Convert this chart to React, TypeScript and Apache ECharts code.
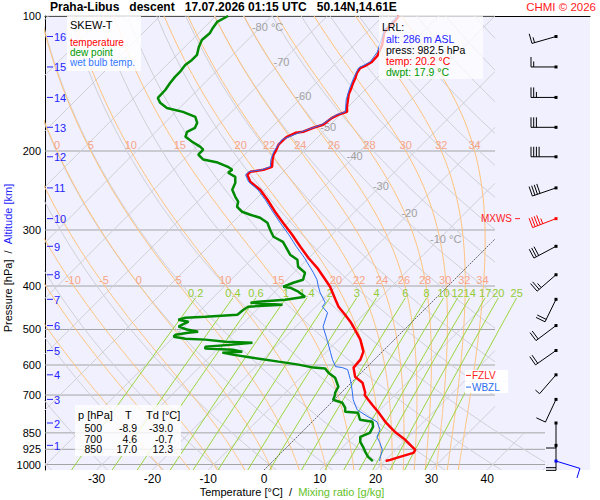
import React, { useEffect, useRef } from "react";
import * as echarts from "echarts";

// ---------------- data ----------------
const stationTitle = "Praha-Libus   descent   17.07.2026 01:15 UTC   50.14N,14.61E";
const copyright = "CHMI © 2026";

const pressureTicks = [100, 200, 300, 400, 500, 600, 700, 850, 925, 1000];
const wideIsobars = [850, 925, 1000];
const temperatureTicks = [-30, -20, -10, 0, 10, 20, 30, 40];

const isotherms = [-120, -110, -100, -90, -80, -70, -60, -50, -40, -30, -20, -10, 0, 10, 20, 30, 40, 50];
const dryAdiabats = [-40, -30, -20, -10, 0, 10, 20, 30, 40, 50, 60, 70, 80, 90, 100, 110, 120, 130, 140, 150, 160, 170, 180];
const moistAdiabats = [-20, -15, -10, -5, 0, 5, 10, 15, 20, 22, 24, 26, 28, 30, 32, 34];
const moistLabels200 = [0, 5, 10, 15, 20, 22, 24, 26, 28, 30, 32, 34];
const moistLabels400 = [-10, -5, 0, 5, 10, 15, 20, 22, 24, 26, 28, 30, 32, 34];
const mixingRatios = [0.2, 0.4, 0.6, 1, 1.4, 2, 3, 4, 6, 8, 10, 12, 14, 17, 20, 25];
const isothermLabelT = [-80, -70, -60, -50, -40, -30, -20, -10];
const isothermLabelP = [105.8, 126.6, 150.7, 176.6, 205.2, 239, 275, 315];

const tempP = [100, 102.6, 104.7, 107.4, 109.1, 112.5, 116.0, 120.3, 122.8, 126.6, 129.2, 130.6, 134.0, 137.4, 141.0, 145.4, 149.2, 153.8, 159.5, 163.6, 164.5, 166.1, 168.7, 174.8, 177.5, 181.2, 182.1, 185.9, 188.8, 193.6, 200.7, 203.7, 209.0, 216.9, 220.2, 222.5, 226.0, 234.3, 244.1, 256.9, 273.2, 289.1, 307.5, 326.9, 345.9, 364.3, 381.3, 401.4, 429.1, 444.8, 463.4, 480.4, 500, 526.7, 560.2, 583.7, 608.1, 637.0, 657.0, 691.9, 700, 717.2, 735.9, 762.8, 803.0, 828.2, 850, 880.9, 927.5, 941.9, 961.5, 976.4, 982.5];
const tempT = [-57.2, -57.0, -57.0, -57.0, -56.8, -55.9, -55.0, -54.3, -53.9, -53.8, -54.3, -54.8, -54.5, -53.9, -53.4, -52.7, -52.2, -51.3, -50.2, -49.3, -49.8, -50.4, -50.9, -51.3, -52.5, -53.6, -54.7, -55.6, -55.7, -55.7, -55.0, -54.8, -54.1, -52.9, -53.9, -55.9, -55.9, -54.1, -50.9, -47.8, -44.3, -40.9, -37.1, -33.5, -30.1, -26.7, -24.0, -21.0, -17.7, -15.9, -13.3, -11.1, -8.9, -6.1, -3.4, -2.5, -2.3, -0.4, 2.0, 4.3, 4.6, 6.1, 7.7, 10.0, 13.1, 15.2, 17.0, 19.9, 23.5, 23.7, 22.0, 20.8, 20.2];

const dewP = [100, 103.1, 106.3, 109.1, 113.1, 117.2, 122.1, 125.3, 128.6, 133.3, 136.7, 141.0, 146.2, 152.3, 156.2, 160.3, 163.6, 167.8, 173.0, 177.5, 181.2, 185.9, 190.7, 195.6, 198.6, 203.7, 209.0, 212.2, 216.9, 220.2, 223.6, 228.3, 235.5, 244.1, 253.0, 259.5, 266.3, 273.2, 277.4, 281.8, 289.1, 300.0, 310.6, 318.7, 331.9, 340.6, 349.5, 362.4, 373.6, 387.3, 393.3, 401.4, 403.5, 411.8, 422.5, 429.1, 433.5, 435.8, 440.3, 444.8, 451.8, 463.4, 468.2, 470.6, 475.4, 480.4, 487.8, 492.8, 500, 505.6, 508.2, 513.4, 518.7, 524.1, 526.7, 532.2, 534.9, 540.4, 546.0, 551.6, 554.5, 560.2, 563.1, 568.9, 577.8, 589.7, 598.8, 608.1, 611.2, 624.0, 640.3, 670.7, 691.9, 700, 717.2, 728.4, 747.3, 762.8, 766.8, 794.8, 803.0, 823.9, 850, 867.4, 890.0, 913.3, 937.1, 961.5, 982.5];
const dewT = [-87.8, -88.7, -88.4, -88.0, -88.2, -87.5, -86.4, -86.4, -86.7, -86.4, -86.4, -86.2, -85.8, -85.7, -84.4, -82.3, -78.7, -75.6, -74.2, -73.7, -74.4, -73.8, -71.7, -69.4, -68.3, -68.3, -66.5, -63.4, -60.8, -59.5, -59.7, -57.7, -56.6, -55.9, -54.1, -52.7, -52.0, -50.2, -48.2, -45.9, -43.7, -41.9, -40.1, -37.5, -35.3, -33.9, -31.7, -30.3, -28.0, -27.1, -28.3, -29.4, -28.0, -25.8, -23.7, -26.7, -31.2, -32.4, -26.3, -32.1, -32.4, -32.6, -38.0, -41.4, -42.3, -40.1, -40.7, -41.0, -39.0, -36.6, -38.2, -40.1, -40.1, -37.6, -33.9, -29.9, -24.9, -28.1, -32.6, -32.3, -27.2, -25.1, -28.5, -26.3, -22.2, -16.8, -12.7, -9.5, -7.2, -5.9, -3.8, -1.6, -1.1, -0.7, -0.2, 2.0, 3.4, 4.1, 6.6, 8.2, 10.8, 11.8, 12.3, 11.3, 12.2, 13.6, 14.9, 16.3, 17.9];

const wbP = [100, 107.4, 112.5, 120.3, 126.6, 130.6, 137.4, 145.4, 153.8, 163.6, 166.1, 174.8, 181.2, 188.8, 200.7, 209.0, 216.9, 220.2, 222.5, 226.0, 234.3, 244.1, 256.9, 273.2, 289.1, 307.5, 326.9, 345.9, 373.6, 387.3, 401.4, 414.0, 435.8, 444.8, 458.7, 492.8, 532.2, 563.1, 583.7, 605.0, 608.1, 614.4, 646.9, 681.3, 717.2, 755.1, 782.6, 803.0, 836.7, 867.4, 894.6, 927.5, 961.5, 982.5];
const wbT = [-57.5, -57.3, -56.2, -54.6, -54.1, -55.1, -54.2, -53.0, -51.6, -49.6, -50.7, -51.6, -53.9, -56.0, -55.3, -54.4, -53.2, -54.2, -56.2, -56.2, -54.4, -51.3, -48.2, -44.7, -41.4, -37.7, -34.2, -30.8, -26.5, -24.6, -23.1, -21.7, -19.0, -18.8, -16.8, -15.1, -11.6, -9.1, -7.5, -5.7, -4.3, -3.0, -0.7, 1.4, 3.4, 5.9, 9.1, 11.6, 13.6, 14.3, 15.9, 17.6, 18.5, 19.1];

const altitudeKm = [16, 15, 14, 13, 12, 11, 10, 9, 8, 7, 6, 5, 4, 3, 2, 1];
const altitudeP = [111.1, 129.9, 151.9, 177.1, 206.0, 241.7, 283.0, 326.2, 377.5, 428.3, 490.0, 557.0, 631.0, 715.9, 808.1, 906.4];

const windP = [111.1, 129.9, 151.9, 177.1, 206.0, 241.7, 283.0, 326.2, 377.5, 428.3, 490.0, 557.0, 631.0, 715.9, 808.1, 906.4, 982.5];
const windDir = [254, 270, 270, 270, 270, 251, 249, 242, 229, 206, 233, 235, 221, 205, 180, 180, 107];
const windKt = [15, 15, 25, 30, 40, 40, 45, 30, 25, 20, 20, 20, 5, 10, 10, 20, 10];

const freezingLevelP = 633;
const wetBulbZeroP = 672;

const lrlAlt = 286;
const lrlPress = 982.5;
const lrlTemp = 20.2;
const lrlDwpt = 17.9;

const tableP = [500, 700, 850];
const tableT = [-8.9, 4.6, 17.0];
const tableTd = [-39.0, -0.7, 12.3];

// ---------------- layout ----------------
const FONT = '"Liberation Sans", Arial, Helvetica, sans-serif';
const W = 600;
const H = 500;
const GRID_L = 45;
const GRID_R = 10;
const GRID_T = 16;
const GRID_B = 30;
const ZERO_PX = 264;
const PX_PER_DEG = 5.58;
const P_TOP = 100;
const P_BOT = 1028.6;
const SKEW = (H - GRID_T - GRID_B) / Math.log(P_BOT / P_TOP) / PX_PER_DEG;
const pxToX = (px: number) => (px - ZERO_PX) / PX_PER_DEG;
const X_MIN = pxToX(GRID_L);
const X_MAX = pxToX(W - GRID_R);
const skewX = (t: number, p: number) => t + SKEW * Math.log(P_BOT / p);
const CLIP_HIGH = pxToX(495);
const CLIP_LOW = pxToX(545);
const CLIP_P = 850;
const MIX_TOP = 425;

const inside = (x: number, p: number) => x <= (p >= CLIP_P - 1e-6 ? CLIP_LOW : CLIP_HIGH);

function clipLine(pts: number[][]): number[][][] {
  const out: number[][][] = [];
  let cur: number[][] = [];
  const lerp = (a: number[], b: number[], t: number) => [
    a[0] + (b[0] - a[0]) * t,
    Math.exp(Math.log(a[1]) + (Math.log(b[1]) - Math.log(a[1])) * t),
  ];
  for (let i = 0; i < pts.length; i++) {
    const b = pts[i];
    const ib = inside(b[0], b[1]);
    if (i === 0) {
      if (ib) cur.push(b);
      continue;
    }
    const a = pts[i - 1];
    const ia = inside(a[0], a[1]);
    if (ia && ib) cur.push(b);
    else if (ia !== ib) {
      let lo = 0;
      let hi = 1;
      for (let k = 0; k < 30; k++) {
        const m = (lo + hi) / 2;
        const q = lerp(a, b, m);
        if (inside(q[0], q[1]) === ia) lo = m;
        else hi = m;
      }
      const q = lerp(a, b, ia ? lo : hi);
      if (ia) {
        cur.push(q);
        if (cur.length > 1) out.push(cur);
        cur = [];
      } else {
        cur = [q, b];
      }
    }
  }
  if (cur.length > 1) out.push(cur);
  return out;
}

function pressureSamples(step: number): number[] {
  const out = [P_BOT];
  for (let p = Math.floor(P_BOT / step) * step; p > P_TOP; p -= step) if (p < P_BOT) out.push(p);
  out.push(P_TOP);
  return out;
}

function moistCurve(thetaW: number): number[][] {
  const Rd = 287.04, cp = 1005.7, Lv = 2.501e6, eps = 0.622;
  const f = (T: number, p: number) => {
    const es = 6.112 * Math.exp((17.67 * (T - 273.15)) / (T - 29.65));
    const rs = (eps * es) / (p - es);
    return (Rd * T + Lv * rs) / (p * (cp + (Lv * Lv * rs * eps) / (Rd * T * T)));
  };
  const rk = (T: number, p: number, h: number) => {
    const k1 = f(T, p);
    const k2 = f(T + (h / 2) * k1, p + h / 2);
    const k3 = f(T + (h / 2) * k2, p + h / 2);
    const k4 = f(T + h * k3, p + h);
    return T + (h / 6) * (k1 + 2 * k2 + 2 * k3 + k4);
  };
  const T0 = thetaW + 273.15;
  let Tb = T0;
  const nb = 10;
  const hb = (P_BOT - 1000) / nb;
  for (let i = 0; i < nb; i++) Tb = rk(Tb, 1000 + i * hb, hb);
  const pts: number[][] = [[P_BOT, Tb], [1000, T0]];
  let T = T0;
  for (let p = 1000; p > P_TOP; p -= 1) {
    T = rk(T, p, -1);
    if ((p - 1) % 5 === 0) pts.push([p - 1, T]);
  }
  return pts.map(([p, t]) => [skewX(t - 273.15, p), p]);
}

function dryCurve(thetaC: number): number[][] {
  return pressureSamples(10).map((p) => [skewX((thetaC + 273.15) * Math.pow(p / 1000, 0.2857) - 273.15, p), p]);
}

function mixCurve(w: number): number[][] {
  const ps = [P_BOT];
  for (let p = 1000; p > MIX_TOP; p -= 25) ps.push(p);
  ps.push(MIX_TOP);
  return ps.map((p) => {
    const r = w / 1000;
    const e = (r * p) / (0.622 + r);
    const l = Math.log(e / 6.112);
    const t = (243.5 * l) / (17.67 - l);
    return [skewX(t, p), p];
  });
}

const lineSeries = (data: number[][], color: string, width: number, z: number, type: any = "solid") => ({
  type: "line",
  data,
  showSymbol: false,
  symbol: "none",
  silent: true,
  animation: false,
  z,
  lineStyle: { color, width, type },
  itemStyle: { color },
  emphasis: { disabled: true },
});

type Lbl = { X: number; p: number; text: string; color: string; size: number; align?: string; vAlign?: string; dx?: number; dy?: number };

const labelSeries = (items: Lbl[], z = 4) => ({
  type: "custom",
  coordinateSystem: "cartesian2d",
  silent: true,
  animation: false,
  z,
  data: items.map((it) => [it.X, it.p]),
  renderItem: (params: any, api: any) => {
    const it = items[params.dataIndex];
    const c = api.coord([api.value(0), api.value(1)]);
    const align = it.align || "center";
    const vAlign = it.vAlign || "middle";
    return {
      type: "text",
      x: c[0] + (it.dx || 0),
      y: c[1] + (it.dy || 0),
      style: {
        text: it.text,
        fill: it.color,
        font: `${it.size}px ${FONT}`,
        align,
        verticalAlign: vAlign,
        textAlign: align,
        textVerticalAlign: vAlign,
      },
    };
  },
});

const gText = (x: number, y: number, text: string, fill: string, size: number, align = "left", bold = false) => ({
  type: "text",
  x,
  y,
  z: 101,
  silent: true,
  style: {
    text,
    fill,
    font: `${bold ? "bold " : ""}${size}px ${FONT}`,
    lineHeight: 10,
    align,
    verticalAlign: "middle",
    textAlign: align,
    textVerticalAlign: "middle",
  },
});

const gRect = (x: number, y: number, w: number, h: number, fill: string) => ({
  type: "rect",
  z: 100,
  silent: true,
  shape: { x, y, width: w, height: h },
  style: { fill },
});

function buildOption() {
  const series: any[] = [];

  // isobars
  pressureTicks.forEach((p) => {
    const end = wideIsobars.includes(p) ? CLIP_LOW : CLIP_HIGH;
    series.push(lineSeries([[X_MIN, p], [end, p]], "#a4a4a4", 1, 1));
  });

  // dry adiabats
  dryAdiabats.forEach((th) => {
    clipLine(dryCurve(th)).forEach((seg) => series.push(lineSeries(seg, "#cfcfd4", 1, 1)));
  });

  // isotherms
  isotherms.forEach((t) => {
    const pts = pressureSamples(20).map((p) => [skewX(t, p), p]);
    clipLine(pts).forEach((seg) =>
      series.push(t === 0 ? lineSeries(seg, "#666666", 1, 2, [2, 1]) : lineSeries(seg, "#cfcfd4", 1, 1))
    );
  });

  // moist adiabats
  const moistAt: Record<string, Record<string, number>> = {};
  moistAdiabats.forEach((tw) => {
    const curve = moistCurve(tw);
    moistAt[tw] = {};
    curve.forEach(([x, p]) => {
      if (Math.abs(p - 200) < 1e-6) moistAt[tw]["200"] = x;
      if (Math.abs(p - 400) < 1e-6) moistAt[tw]["400"] = x;
    });
    clipLine(curve).forEach((seg) => series.push(lineSeries(seg, "#ffc27a", 1, 1)));
  });

  // mixing ratio lines
  const mixTops: number[] = [];
  mixingRatios.forEach((w) => {
    const c = mixCurve(w);
    mixTops.push(c[c.length - 1][0]);
    series.push(lineSeries(c, "#9ad53c", 1, 1));
  });

  // labels
  const lbls: Lbl[] = [];
  isothermLabelT.forEach((t, i) => {
    const unit = i === 0 || i === isothermLabelT.length - 1;
    lbls.push({ X: skewX(t, isothermLabelP[i]), p: isothermLabelP[i], text: unit ? `${t} °C` : `${t}`, color: "#a0a0a0", size: 11, dx: unit ? 7 : 0 });
  });
  moistLabels200.forEach((tw) => {
    lbls.push({ X: moistAt[tw]["200"], p: 200, text: `${tw}`, color: "#f7a486", size: 11, vAlign: "bottom", dx: 0, dy: -1 });
  });
  moistLabels400.forEach((tw) => {
    lbls.push({ X: moistAt[tw]["400"], p: 400, text: `${tw}`, color: "#f7a486", size: 11, vAlign: "bottom", dx: -1, dy: -1 });
  });
  mixingRatios.forEach((w, i) => {
    lbls.push({ X: mixTops[i], p: MIX_TOP, text: `${w}`, color: "#92cc33", size: 11, vAlign: "bottom", dy: 1 });
  });
  pressureTicks.forEach((p) => {
    lbls.push({ X: X_MIN, p, text: `${p}`, color: "#000000", size: 11, align: "right", dx: -4 });
  });
  series.push(labelSeries(lbls, 4));

  // altitude ticks
  series.push({
    type: "custom",
    coordinateSystem: "cartesian2d",
    silent: true,
    animation: false,
    z: 4,
    data: altitudeP.map((p) => [X_MIN, p]),
    renderItem: (params: any, api: any) => {
      const c = api.coord([api.value(0), api.value(1)]);
      return {
        type: "group",
        children: [
          { type: "line", shape: { x1: c[0] + 2, y1: c[1], x2: c[0] + 8, y2: c[1] }, style: { stroke: "#2424ff", lineWidth: 1 } },
          {
            type: "text",
            x: c[0] + 9,
            y: c[1] + 0.5,
            style: { text: `${altitudeKm[params.dataIndex]}`, fill: "#2424ff", font: `11px ${FONT}`, align: "left", verticalAlign: "middle", textAlign: "left", textVerticalAlign: "middle" },
          },
        ],
      };
    },
  });

  // profiles
  series.push(lineSeries(dewP.map((p, i) => [skewX(dewT[i], p), p]), "#008a00", 2.5, 5));
  series.push(lineSeries(tempP.map((p, i) => [skewX(tempT[i], p), p]), "#ff0000", 2.5, 6));
  series.push(lineSeries(wbP.map((p, i) => [skewX(wbT[i], p), p]), "#2a6cf0", 1, 7));

  // wind barbs
  let maxIdx = 0;
  windKt.forEach((v, i) => {
    if (v > windKt[maxIdx]) maxIdx = i;
  });
  const BARB_X = pxToX(556);
  series.push({
    type: "custom",
    coordinateSystem: "cartesian2d",
    silent: true,
    animation: false,
    z: 8,
    data: windP.map((p, i) => [BARB_X, p, windDir[i], windKt[i]]),
    renderItem: (params: any, api: any) => {
      const i = params.dataIndex;
      const c = api.coord([api.value(0), api.value(1)]);
      const dir = (api.value(2) * Math.PI) / 180;
      const spd = api.value(3);
      const color = i === maxIdx ? "#ff0000" : i === windP.length - 1 ? "#0000ff" : "#000000";
      const ux = Math.sin(dir);
      const uy = -Math.cos(dir);
      const vx = -uy;
      const vy = ux;
      const L = 25, BL = 10, HL = 5.5, GAP = 2.7;
      const ex = c[0] + ux * L;
      const ey = c[1] + uy * L;
      const st = { stroke: color, lineWidth: 1 };
      const children: any[] = [{ type: "line", shape: { x1: c[0], y1: c[1], x2: ex, y2: ey }, style: st }];
      const full = Math.floor(spd / 10);
      const half = spd % 10 >= 5;
      let pos = 0;
      for (let k = 0; k < full; k++) {
        const bx = ex - ux * pos;
        const by = ey - uy * pos;
        children.push({ type: "line", shape: { x1: bx, y1: by, x2: bx + vx * BL, y2: by + vy * BL }, style: st });
        pos += GAP;
      }
      if (half) {
        const bx = ex - ux * pos;
        const by = ey - uy * pos;
        children.push({ type: "line", shape: { x1: bx, y1: by, x2: bx + vx * HL, y2: by + vy * HL }, style: st });
      }
      children.push({ type: "rect", shape: { x: c[0] - 1.5, y: c[1] - 1.5, width: 3, height: 3 }, style: { fill: color } });
      return { type: "group", children };
    },
  });

  // special levels
  const levelItems = [
    { X: pxToX(512), p: windP[maxIdx], kind: 0 },
    { X: pxToX(466), p: freezingLevelP, kind: 1 },
    { X: pxToX(466), p: wetBulbZeroP, kind: 2 },
  ];
  series.push({
    type: "custom",
    coordinateSystem: "cartesian2d",
    silent: true,
    animation: false,
    z: 9,
    data: levelItems.map((it) => [it.X, it.p]),
    renderItem: (params: any, api: any) => {
      const it = levelItems[params.dataIndex];
      const c = api.coord([api.value(0), api.value(1)]);
      const ts = (text: string, fill: string, align: string) => ({
        text,
        fill,
        font: `10px ${FONT}`,
        lineHeight: 10,
        align,
        verticalAlign: "middle",
        textAlign: align,
        textVerticalAlign: "middle",
      });
      if (it.kind === 0) {
        return {
          type: "group",
          children: [
            { type: "text", x: c[0], y: c[1], style: ts("MXWS", "#ff2222", "right") },
            { type: "line", shape: { x1: c[0] + 3, y1: c[1], x2: c[0] + 8, y2: c[1] }, style: { stroke: "#ff2222", lineWidth: 1 } },
          ],
        };
      }
      const color = it.kind === 1 ? "#ff2222" : "#2a6cf0";
      const label = it.kind === 1 ? "FZLV" : "WBZL";
      return {
        type: "group",
        children: [
          { type: "rect", shape: { x: c[0] - 1, y: c[1] - 5.5, width: 43, height: 11.5 }, style: { fill: "rgba(255,255,255,0.95)" } },
          { type: "line", shape: { x1: c[0], y1: c[1], x2: c[0] + 5, y2: c[1] }, style: { stroke: color, lineWidth: 1 } },
          { type: "text", x: c[0] + 6, y: c[1], style: ts(label, color, "left") },
        ],
      };
    },
  });

  const graphic: any[] = [
    gText(50, 7, stationTitle, "#000000", 12, "left", true),
    gText(596, 7, copyright, "#ff1a1a", 11.5, "right"),
    // legend
    gRect(67, 16, 74, 55, "rgba(255,255,255,0.85)"),
    gText(70, 25, "SKEW-T", "#000000", 11),
    gText(70, 42, "temperature", "#ff0000", 10),
    gText(70, 52, "dew point", "#009900", 10),
    gText(70, 62.5, "wet bulb temp.", "#3377ff", 10),
    // LRL
    gRect(379, 16, 104, 63, "rgba(255,255,255,0.72)"),
    gText(382, 27, "LRL:", "#000000", 10.5),
    gText(386, 39.4, `alt: ${lrlAlt} m ASL`, "#2424ff", 10.5),
    gText(386, 50.1, `press: ${lrlPress.toFixed(1)} hPa`, "#000000", 10.5),
    gText(386, 60.8, `temp: ${lrlTemp.toFixed(1)} °C`, "#ff0000", 10.5),
    gText(386, 71.5, `dwpt: ${lrlDwpt.toFixed(1)} °C`, "#009900", 10.5),
    // table
    gRect(75, 405, 106, 51, "rgba(255,255,255,0.8)"),
    gText(78, 415, "p [hPa]", "#000000", 11),
    gText(125, 415, "T", "#000000", 11),
    gText(146, 415, "Td [°C]", "#000000", 11),
    // axis titles
    {
      type: "text",
      x: 292,
      y: 492,
      z: 101,
      silent: true,
      style: {
        text: "{a|Temperature [°C]  /  }{b|Mixing ratio [g/kg]}",
        rich: {
          a: { fill: "#000000", font: `11px ${FONT}` },
          b: { fill: "#66c22a", font: `11px ${FONT}` },
        },
        font: `11px ${FONT}`,
        align: "center",
        verticalAlign: "middle",
        textAlign: "center",
        textVerticalAlign: "middle",
      },
    },
    {
      type: "text",
      x: 8,
      y: 258,
      rotation: Math.PI / 2,
      z: 101,
      silent: true,
      style: {
        text: "{a|Pressure [hPa]  /  }{b|Altitude [km]}",
        rich: {
          a: { fill: "#000000", font: `11px ${FONT}` },
          b: { fill: "#2424ff", font: `11px ${FONT}` },
        },
        font: `11px ${FONT}`,
        align: "center",
        verticalAlign: "middle",
        textAlign: "center",
        textVerticalAlign: "middle",
      },
    },
  ];
  tableP.forEach((p, i) => {
    const y = 428 + i * 10.6;
    graphic.push(gText(102, y, `${p}`, "#000000", 10.5, "right"));
    graphic.push(gText(137, y, tableT[i].toFixed(1), "#000000", 10.5, "right"));
    graphic.push(gText(173, y, tableTd[i].toFixed(1), "#000000", 10.5, "right"));
  });

  return {
    animation: false,
    backgroundColor: "#ffffff",
    textStyle: { fontFamily: FONT },
    grid: {
      left: GRID_L,
      right: GRID_R,
      top: GRID_T,
      bottom: GRID_B,
      show: true,
      backgroundColor: "#f0f0ff",
      borderWidth: 0,
      containLabel: false,
      outerBoundsMode: "none",
    },
    xAxis: [
      {
        type: "value",
        min: X_MIN,
        max: X_MAX,
        splitNumber: 10,
        minInterval: 10,
        maxInterval: 10,
        position: "bottom",
        axisLine: { show: false, onZero: false },
        axisTick: { show: false },
        splitLine: { show: false },
        axisLabel: {
          color: "#000000",
          fontSize: 12,
          fontFamily: FONT,
          margin: 3,
          showMinLabel: false,
          showMaxLabel: false,
          formatter: (v: number) => {
            const r = Math.round(v);
            return Math.abs(v - r) < 1e-6 && temperatureTicks.includes(r) ? `${r}` : "";
          },
        },
      },
      {
        type: "value",
        min: X_MIN,
        max: X_MAX,
        position: "top",
        axisLine: { show: true, onZero: false, lineStyle: { color: "#000000", width: 1 } },
        axisTick: { show: false },
        axisLabel: { show: false },
        splitLine: { show: false },
      },
    ],
    yAxis: {
      type: "log",
      logBase: 10,
      inverse: true,
      min: P_TOP,
      max: P_BOT,
      axisLine: { show: true, onZero: false, lineStyle: { color: "#000000", width: 1 } },
      axisTick: { show: false },
      axisLabel: { show: false },
      splitLine: { show: false },
      minorTick: { show: false },
      minorSplitLine: { show: false },
    },
    series,
    graphic,
  };
}

export default function App() {
  const ref = useRef<HTMLDivElement>(null);
  useEffect(() => {
    document.body.style.margin = "0";
    const chart = echarts.init(ref.current as HTMLDivElement, undefined, { renderer: "svg", width: W, height: H });
    chart.setOption(buildOption() as any);
    return () => {
      chart.dispose();
    };
  }, []);
  return <div ref={ref} style={{ width: W, height: H }} />;
}
